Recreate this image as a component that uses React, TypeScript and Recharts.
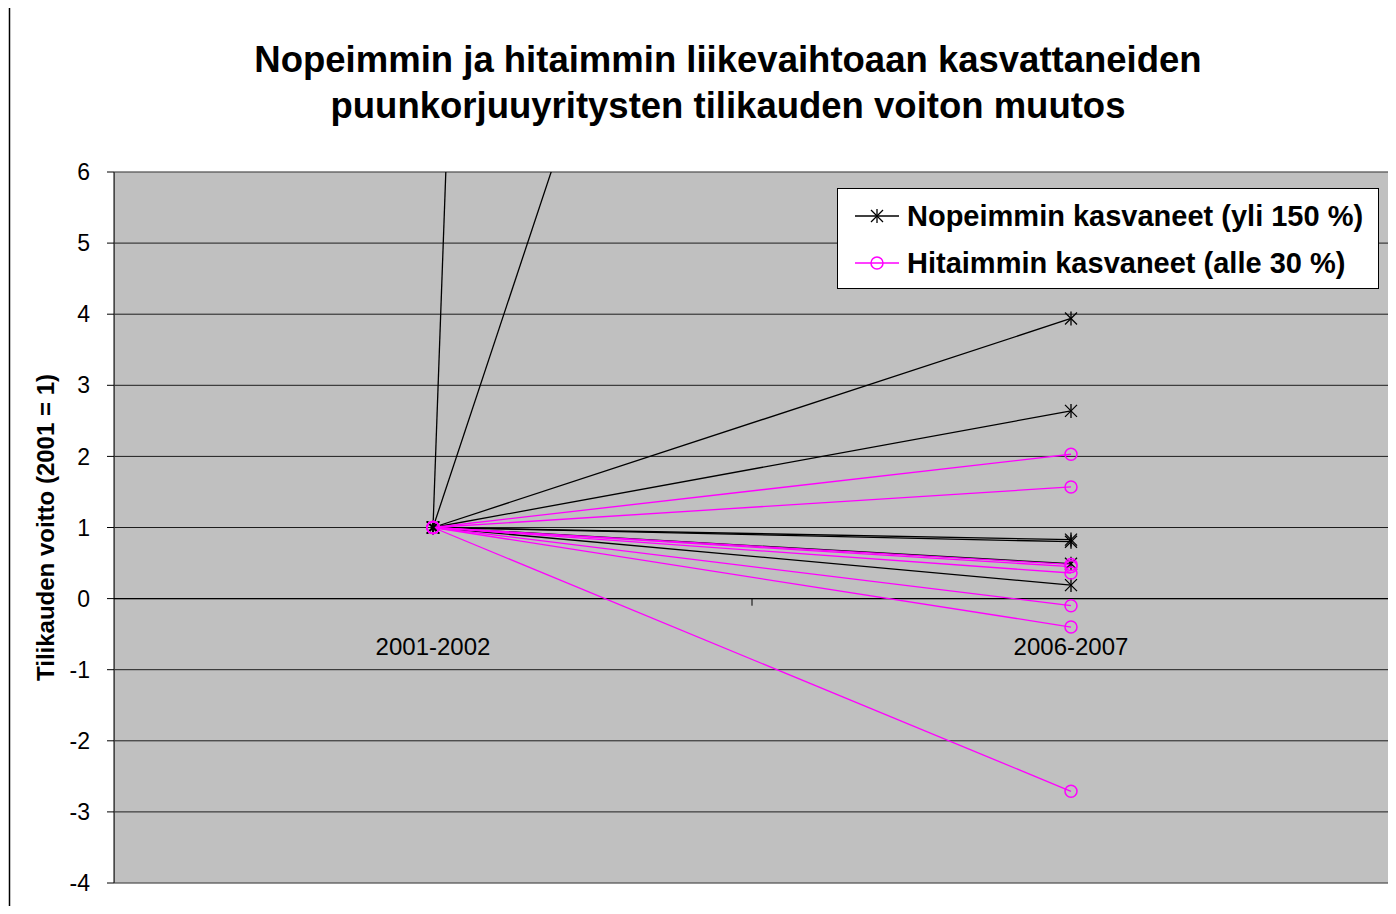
import React from "react";
import {
  LineChart,
  Line,
  XAxis,
  YAxis,
  CartesianGrid,
  ReferenceLine,
  ReferenceArea,
  Legend,
} from "recharts";

// Periods on the category axis
const categories = ["2001-2002", "2006-2007"];

// Profit index (2001 = 1) per company, start and end of the period
const fastStart = [1, 1, 1, 1, 1, 1, 1, 1];
const fastEnd = [250, 28, 3.94, 2.64, 0.83, 0.8, 0.49, 0.19];
const slowStart = [1, 1, 1, 1, 1, 1, 1, 1];
const slowEnd = [2.03, 1.57, 0.48, 0.45, 0.36, -0.1, -0.4, -2.71];

const yTicks = [-4, -3, -2, -1, 0, 1, 2, 3, 4, 5, 6];

const FAST_LABEL = "Nopeimmin kasvaneet (yli 150 %)";
const SLOW_LABEL = "Hitaimmin kasvaneet (alle 30 %)";

const FONT = "Arial, 'Liberation Sans', sans-serif";
const MAGENTA = "#FF00FF";

const data = categories.map((c, i) => {
  const row: any = { x: i + 0.5, label: c };
  fastStart.forEach((_, k) => {
    row["f" + k] = i === 0 ? fastStart[k] : fastEnd[k];
  });
  slowStart.forEach((_, k) => {
    row["s" + k] = i === 0 ? slowStart[k] : slowEnd[k];
  });
  return row;
});

const StarDot = (props: any) => {
  const { cx, cy } = props;
  if (cx == null || cy == null) return null;
  const r = 6;
  return (
    <g stroke="#000" strokeWidth={1.3}>
      <line x1={cx - r} y1={cy - r} x2={cx + r} y2={cy + r} />
      <line x1={cx - r} y1={cy + r} x2={cx + r} y2={cy - r} />
      <line x1={cx} y1={cy - r - 1} x2={cx} y2={cy + r + 1} />
    </g>
  );
};

const CircleDot = (props: any) => {
  const { cx, cy } = props;
  if (cx == null || cy == null) return null;
  return <circle cx={cx} cy={cy} r={6} fill="none" stroke={MAGENTA} strokeWidth={1.5} />;
};

const CategoryTick = (props: any) => {
  const { x, y, payload } = props;
  return (
    <text x={x} y={y - 228} textAnchor="middle" fontSize={24} fontFamily={FONT} fill="#000">
      {categories[Math.floor(payload.value)]}
    </text>
  );
};

const LegendBox = () => (
  <div
    style={{
      background: "#fff",
      border: "1px solid #000",
      width: 540,
      height: 99,
      boxSizing: "content-box",
      fontFamily: FONT,
      fontWeight: "bold",
      fontSize: 29,
      color: "#000",
      position: "relative",
    }}
  >
    {[
      { label: FAST_LABEL, color: "#000", star: true },
      { label: SLOW_LABEL, color: MAGENTA, star: false },
    ].map((e, i) => (
      <div
        key={e.label}
        style={{ position: "absolute", left: 17, top: 9 + i * 47, height: 36, display: "flex", alignItems: "center" }}
      >
        <svg width={44} height={20} style={{ marginRight: 8 }}>
          <line x1={0} y1={10} x2={44} y2={10} stroke={e.color} strokeWidth={1.3} />
          {e.star ? <StarDot cx={22} cy={10} /> : <CircleDot cx={22} cy={10} />}
        </svg>
        <span style={{ whiteSpace: "nowrap" }}>{e.label}</span>
      </div>
    ))}
  </div>
);

export default function App() {
  return (
    <div style={{ position: "relative", margin: -8, width: 1396, height: 914, overflow: "hidden", background: "#fff" }}>
      <div
        style={{
          position: "absolute",
          left: 0,
          top: 37,
          width: 1456,
          textAlign: "center",
          fontFamily: FONT,
          fontWeight: "bold",
          fontSize: 36.5,
          lineHeight: "46px",
          color: "#000",
        }}
      >
        Nopeimmin ja hitaimmin liikevaihtoaan kasvattaneiden
        <br />
        puunkorjuuyritysten tilikauden voiton muutos
      </div>
      <div style={{ position: "absolute", left: 0, top: 0 }}>
        <LineChart width={1396} height={914} data={data} margin={{ top: 172, right: 6, bottom: 1, left: 34 }}>
          <CartesianGrid horizontal vertical={false} fill="#C0C0C0" stroke="#000" strokeOpacity={0.85} />
          <ReferenceArea x1={0} x2={2} y1={-4} y2={6} fill="none" stroke="#808080" strokeWidth={1.5} ifOverflow="hidden" />
          <XAxis
            dataKey="x"
            type="number"
            domain={[0, 2]}
            ticks={[0.5, 1.5]}
            axisLine={false}
            tickLine={false}
            tickSize={0}
            tickMargin={0}
            height={30}
            tick={<CategoryTick />}
          />
          <YAxis
            type="number"
            domain={[-4, 6]}
            ticks={yTicks}
            allowDataOverflow
            width={80}
            interval={0}
            axisLine={{ stroke: "#000" }}
            tickLine={{ stroke: "#000" }}
            tickSize={7}
            tickMargin={17}
            tick={{ fontSize: 23, fontFamily: FONT, fill: "#000" }}
            label={{
              value: "Tilikauden voitto (2001 = 1)",
              angle: -90,
              position: "insideLeft",
              offset: 11,
              style: { textAnchor: "middle", fontSize: 24, fontWeight: "bold", fontFamily: FONT, fill: "#000" },
            }}
          />
          <ReferenceLine y={0} stroke="#000" strokeWidth={1.3} />
          <ReferenceLine segment={[{ x: 1, y: 0 }, { x: 1, y: -0.1 }]} stroke="#000" />
          <ReferenceLine segment={[{ x: 2, y: 0 }, { x: 2, y: -0.1 }]} stroke="#000" />
          {fastStart.map((_, k) => (
            <Line
              key={"f" + k}
              type="linear"
              dataKey={"f" + k}
              stroke="#000"
              strokeWidth={1.3}
              dot={<StarDot />}
              activeDot={false}
              isAnimationActive={false}
            />
          ))}
          {slowStart.map((_, k) => (
            <Line
              key={"s" + k}
              type="linear"
              dataKey={"s" + k}
              stroke={MAGENTA}
              strokeWidth={1.3}
              dot={<CircleDot />}
              activeDot={false}
              isAnimationActive={false}
            />
          ))}
          <Legend
            layout="vertical"
            align="center"
            verticalAlign="middle"
            wrapperStyle={{ left: 837, top: 188, width: 542 }}
            content={<LegendBox />}
          />
        </LineChart>
      </div>
      <svg
        width={1396}
        height={914}
        style={{ position: "absolute", left: 0, top: 0, pointerEvents: "none", zIndex: 5 }}
      >
        <polyline points="9.5,914 9.5,5.5 1396,5.5" fill="none" stroke="#000" strokeWidth={1.5} />
      </svg>
    </div>
  );
}
